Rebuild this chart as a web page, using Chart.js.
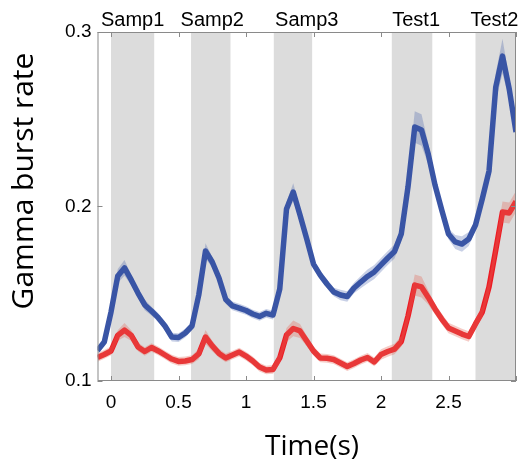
<!DOCTYPE html>
<html lang="en">
<head>
    <meta charset="UTF-8">
    <title>Gamma burst rate</title>
    <script src="https://cdn.jsdelivr.net/npm/chart.js"></script>
    <style>
        body {
            margin: 0;
            padding: 0;
            background: #fff;
        }
        .chart-box {
            width: 527px;
            height: 465px;
        }
    </style>
</head>
<body>
    <div class="chart-box">
        <canvas id="burstChart" width="527" height="465"></canvas>
    </div>

    <script>
        // time axis (s)
        var times = [-0.1, -0.05, 0, 0.05, 0.1, 0.15, 0.2, 0.25, 0.3, 0.35, 0.4, 0.45, 0.5, 0.55, 0.6, 0.65,
            0.7, 0.75, 0.8, 0.85, 0.9, 0.95, 1.0, 1.05, 1.1, 1.15, 1.2, 1.25, 1.3, 1.35, 1.4, 1.45,
            1.5, 1.55, 1.6, 1.65, 1.7, 1.75, 1.8, 1.85, 1.9, 1.95, 2.0, 2.05, 2.1, 2.15, 2.2, 2.25,
            2.3, 2.35, 2.4, 2.45, 2.5, 2.55, 2.6, 2.65, 2.7, 2.75, 2.8, 2.85, 2.9, 2.95, 3.0];

        var blueMean = [0.1175, 0.1223, 0.1395, 0.1602, 0.1648, 0.1579, 0.1504, 0.1436, 0.1401, 0.1363, 0.1315, 0.1252, 0.1249, 0.1275, 0.1315, 0.1493,
            0.1745, 0.1682, 0.1590, 0.1467, 0.1430, 0.1418, 0.1404, 0.1384, 0.1370, 0.1388, 0.1378, 0.1527, 0.1986, 0.2083, 0.1951, 0.1814,
            0.1670, 0.1607, 0.1556, 0.1510, 0.1493, 0.1484, 0.1533, 0.1567, 0.1599, 0.1625, 0.1665, 0.1705, 0.1742, 0.1842, 0.2112, 0.2456,
            0.2438, 0.2301, 0.2123, 0.1980, 0.1842, 0.1797, 0.1785, 0.1814, 0.1894, 0.2043, 0.2203, 0.2685, 0.2862, 0.2673, 0.2427];
        var blueSem = [0.002, 0.002, 0.002, 0.004, 0.0045, 0.003, 0.0025, 0.003, 0.0025, 0.0025, 0.0025, 0.0025, 0.0025, 0.0025, 0.0025, 0.003,
            0.0045, 0.003, 0.0025, 0.0025, 0.0025, 0.0025, 0.0025, 0.0025, 0.0025, 0.0025, 0.0025, 0.003, 0.004, 0.005, 0.004, 0.003,
            0.0025, 0.0025, 0.0025, 0.0025, 0.003, 0.003, 0.003, 0.0035, 0.004, 0.004, 0.004, 0.004, 0.004, 0.004, 0.006, 0.009,
            0.009, 0.006, 0.004, 0.003, 0.003, 0.004, 0.0045, 0.004, 0.003, 0.003, 0.004, 0.008, 0.01, 0.006, 0.003];

        var redMean = [0.1135, 0.1152, 0.1172, 0.1261, 0.1292, 0.1261, 0.1195, 0.1169, 0.1192, 0.1172, 0.1149, 0.1126, 0.1112, 0.1115, 0.1123, 0.1155,
            0.1252, 0.1201, 0.1158, 0.1132, 0.1149, 0.1166, 0.1143, 0.1115, 0.1080, 0.1063, 0.1066, 0.1132, 0.1264, 0.1301, 0.1287, 0.1229,
            0.1172, 0.1132, 0.1130, 0.1123, 0.1103, 0.1083, 0.1100, 0.1120, 0.1135, 0.1109, 0.1152, 0.1169, 0.1183, 0.1226, 0.1372, 0.1550,
            0.1539, 0.1479, 0.1413, 0.1355, 0.1304, 0.1287, 0.1269, 0.1255, 0.1327, 0.1395, 0.1539, 0.1751, 0.1968, 0.1963, 0.2029];
        var redSem = [0.0025, 0.0025, 0.0025, 0.003, 0.004, 0.003, 0.0025, 0.0025, 0.0025, 0.0025, 0.0025, 0.0025, 0.0025, 0.0025, 0.0025, 0.003,
            0.004, 0.003, 0.0025, 0.0025, 0.0025, 0.0025, 0.0025, 0.0025, 0.0025, 0.0025, 0.0025, 0.003, 0.004, 0.0045, 0.004, 0.003,
            0.0025, 0.0025, 0.0025, 0.0025, 0.0025, 0.0025, 0.0025, 0.0025, 0.0025, 0.0025, 0.003, 0.003, 0.003, 0.003, 0.004, 0.006,
            0.006, 0.004, 0.003, 0.003, 0.003, 0.003, 0.003, 0.003, 0.003, 0.003, 0.004, 0.005, 0.006, 0.006, 0.006];

        // task epochs (s)
        var epochNames = ['Samp1', 'Samp2', 'Samp3', 'Test1', 'Test2'];
        var epochStart = [0, 0.593, 1.206, 2.08, 2.7];
        var epochEnd = [0.32, 0.885, 1.49, 2.38, 3.0];
        var epochLabelAt = [0.16, 0.75, 1.45, 2.26, 2.84];

        var xTicks = [0, 0.5, 1, 1.5, 2, 2.5, 3];
        var yTicks = [0.1, 0.2, 0.3];

        function pts(arr, sem, sign) {
            return times.map(function(t, i) {
                return { x: t, y: arr[i] + sign * (sem ? sem[i] : 0) };
            });
        }

        var tickFont = { family: "'Liberation Sans', Arial, sans-serif", size: 19 };
        var axisGray = '#8a8a8a';

        var epochPlugin = {
            id: 'epochs',
            beforeDatasetsDraw: function(chart) {
                var ctx = chart.ctx, x = chart.scales.x, a = chart.chartArea;
                ctx.save();
                ctx.fillStyle = '#dcdcdc';
                for (var i = 0; i < epochStart.length; i++) {
                    var x0 = x.getPixelForValue(epochStart[i]);
                    var x1 = Math.min(x.getPixelForValue(epochEnd[i]), a.right);
                    ctx.fillRect(x0, a.top, x1 - x0, a.bottom - a.top);
                }
                ctx.restore();
            },
            afterDatasetsDraw: function(chart) {
                var ctx = chart.ctx, x = chart.scales.x, y = chart.scales.y, a = chart.chartArea;
                ctx.save();
                ctx.strokeStyle = axisGray;
                ctx.lineWidth = 1;
                ctx.strokeRect(a.left + 0.5, a.top + 0.5, a.right - a.left - 1, a.bottom - a.top - 1);
                ctx.beginPath();
                xTicks.forEach(function(v) {
                    var px = Math.round(x.getPixelForValue(v)) + 0.5;
                    ctx.moveTo(px, a.bottom); ctx.lineTo(px, a.bottom - 5);
                    ctx.moveTo(px, a.top); ctx.lineTo(px, a.top + 5);
                });
                yTicks.forEach(function(v) {
                    var py = Math.round(y.getPixelForValue(v)) + 0.5;
                    ctx.moveTo(a.left, py); ctx.lineTo(a.left + 5, py);
                    ctx.moveTo(a.right, py); ctx.lineTo(a.right - 5, py);
                });
                ctx.stroke();
                ctx.restore();
            },
            afterDraw: function(chart) {
                var ctx = chart.ctx, x = chart.scales.x, a = chart.chartArea;
                ctx.save();
                ctx.fillStyle = '#000';
                ctx.font = "20px 'Liberation Sans', Arial, sans-serif";
                ctx.textAlign = 'center';
                ctx.textBaseline = 'alphabetic';
                for (var i = 0; i < epochNames.length; i++) {
                    ctx.fillText(epochNames[i], x.getPixelForValue(epochLabelAt[i]), a.top - 6);
                }
                // axis titles
                ctx.font = "28px 'Open Sans', sans-serif";
                ctx.fillText('Time(s)', 312, 455);
                ctx.font = "30px 'Open Sans', sans-serif";
                ctx.translate(24, 181);
                ctx.rotate(-Math.PI / 2);
                ctx.textBaseline = 'middle';
                ctx.fillText('Gamma burst rate', 0, 0);
                ctx.restore();
            }
        };

        var blueLine = '#3a55a6';
        var redLine = '#ec1c24';

        var burstChart = new Chart(document.getElementById('burstChart').getContext('2d'), {
            type: 'line',
            data: {
                datasets: [
                    { data: pts(blueMean, blueSem, 1), borderWidth: 0, pointRadius: 0, fill: false },
                    { data: pts(blueMean, blueSem, -1), borderWidth: 0, pointRadius: 0, fill: '-1',
                      backgroundColor: 'rgba(58, 85, 166, 0.28)' },
                    { data: pts(blueMean, null, 0), borderColor: blueLine, borderWidth: 5.5, pointRadius: 0,
                      fill: false, borderJoinStyle: 'round', borderCapStyle: 'butt' },
                    { data: pts(redMean, redSem, 1), borderWidth: 0, pointRadius: 0, fill: false },
                    { data: pts(redMean, redSem, -1), borderWidth: 0, pointRadius: 0, fill: '-1',
                      backgroundColor: 'rgba(225, 110, 95, 0.35)' },
                    { data: pts(redMean, null, 0), borderColor: redLine, borderWidth: 5.5, pointRadius: 0,
                      fill: false, borderJoinStyle: 'round', borderCapStyle: 'butt' }
                ]
            },
            options: {
                responsive: false,
                animation: false,
                events: [],
                layout: { padding: { top: 32, right: 11, left: 0, bottom: 0 } },
                plugins: {
                    legend: { display: false },
                    tooltip: { enabled: false }
                },
                scales: {
                    x: {
                        type: 'linear',
                        min: -0.1,
                        max: 3.0,
                        grid: { display: false, drawTicks: false },
                        border: { display: false },
                        afterFit: function(s) { s.height = 84; },
                        afterBuildTicks: function(s) { s.ticks = xTicks.map(function(v) { return { value: v }; }); },
                        ticks: {
                            font: tickFont,
                            color: '#000',
                            padding: 10,
                            maxRotation: 0,
                            callback: function(v) { return v === 3 ? '' : String(v); }
                        }
                    },
                    y: {
                        min: 0.1,
                        max: 0.3,
                        grid: { display: false, drawTicks: false },
                        border: { display: false },
                        afterFit: function(s) { s.width = 97.5; },
                        afterBuildTicks: function(s) { s.ticks = yTicks.map(function(v) { return { value: v }; }); },
                        ticks: {
                            font: tickFont,
                            color: '#000',
                            padding: 6,
                            callback: function(v) { return v.toFixed(1); }
                        }
                    }
                }
            },
            plugins: [epochPlugin]
        });
    </script>
</body>
</html>
